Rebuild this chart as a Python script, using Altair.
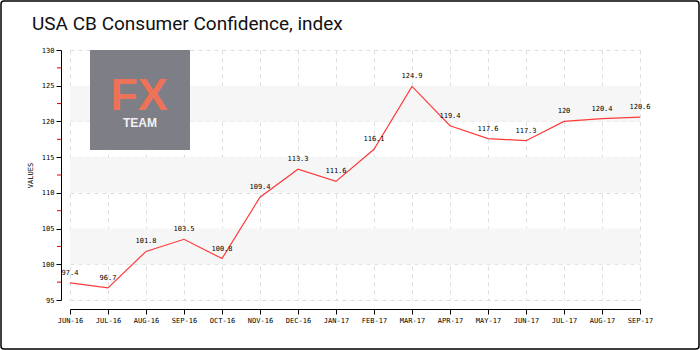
import altair as alt
import pandas as pd

months = ["JUN-16", "JUL-16", "AUG-16", "SEP-16", "OCT-16", "NOV-16", "DEC-16", "JAN-17",
          "FEB-17", "MAR-17", "APR-17", "MAY-17", "JUN-17", "JUL-17", "AUG-17", "SEP-17"]
values = [97.4, 96.7, 101.8, 103.5, 100.8, 109.4, 113.3, 111.6,
          116.1, 124.9, 119.4, 117.6, 117.3, 120, 120.4, 120.6]
labels = ["97.4", "96.7", "101.8", "103.5", "100.8", "109.4", "113.3", "111.6",
          "116.1", "124.9", "119.4", "117.6", "117.3", "120", "120.4", "120.6"]
band_lo = [100, 110, 120]
band_hi = [105, 115, 125]
minor_ticks = [97.5, 102.5, 107.5, 112.5, 117.5, 122.5, 127.5]
y_ticks = [95, 100, 105, 110, 115, 120, 125, 130]
title_text = "USA CB Consumer Confidence, index"

df = pd.DataFrame({"month": months, "value": values, "label": labels})
bands = pd.DataFrame({"lo": band_lo, "hi": band_hi})
minor = pd.DataFrame({"v": minor_ticks})
one = pd.DataFrame({"t": [title_text]})

W, H = 570, 250
MONO = "DejaVu Sans Mono"

xscale = alt.Scale(type="point", domain=months, padding=0)
yscale = alt.Scale(domain=[95, 130], nice=False, zero=False)

axis_common = dict(labelFont=MONO, labelFontSize=7, labelColor="#000", tickColor="#000",
                   tickSize=5, domainColor="#000", offset=9, grid=True, gridColor="#dddddd",
                   gridDash=[4, 4], labelPadding=2, labelOverlap=False)
yaxis = alt.Axis(title="VALUES", titleFont=MONO, titleFontSize=7,
                 titleFontWeight="normal", titleColor="#000", titlePadding=8,
                 values=y_ticks, tickCount=8, **axis_common)
xaxis = alt.Axis(title=None, labelAngle=0, **axis_common)


def ycol(field):
    return alt.Y(field, scale=yscale, axis=yaxis, title="VALUES")


band_layer = alt.Chart(bands).mark_rect(color="#f6f6f6").encode(
    x=alt.value(0), x2=alt.value(W),
    y=ycol("lo:Q"), y2="hi:Q")

border = alt.Chart(one).mark_rect(
    fill=None, stroke="#000", strokeWidth=1.5, cornerRadius=3, clip=False).encode(
    x=alt.value(-69), x2=alt.value(629), y=alt.value(-49), y2=alt.value(299))

title = alt.Chart(one).mark_text(
    font="Roboto", fontSize=19, color="#111", align="left",
    baseline="alphabetic", clip=False).encode(
    x=alt.value(-38), y=alt.value(-20), text="t:N")

logo = alt.Chart(one).mark_rect(color="#7d7e86").encode(
    x=alt.value(20), x2=alt.value(120), y=alt.value(0), y2=alt.value(100))
logo_fx = alt.Chart(one).mark_text(
    text="FX", font="Liberation Sans", fontSize=45, fontWeight="bold", color="#ee7257",
    align="center", baseline="alphabetic").encode(x=alt.value(69), y=alt.value(60))
logo_team = alt.Chart(one).mark_text(
    text="TEAM", font="Liberation Sans", fontSize=12, fontWeight="bold", color="#f2f2f2",
    align="center", baseline="alphabetic").encode(x=alt.value(70), y=alt.value(77))

line = alt.Chart(df).mark_line(color="#ff3a3a", strokeWidth=1.2).encode(
    x=alt.X("month:O", scale=xscale, sort=months, axis=xaxis),
    y=ycol("value:Q"))

text = alt.Chart(df).mark_text(font=MONO, fontSize=7, color="#000", dy=-8,
                               baseline="alphabetic", align="center").encode(
    x=alt.X("month:O", scale=xscale, sort=months, axis=xaxis),
    y=ycol("value:Q"),
    text="label:N")

minor_layer = alt.Chart(minor).mark_rule(color="#e00000", strokeWidth=1, clip=False).encode(
    x=alt.value(-13), x2=alt.value(-9), y=ycol("v:Q"))

chart = alt.layer(band_layer, logo, logo_fx, logo_team, line, text, minor_layer,
                  title, border).properties(
    width=W, height=H,
).configure(
    autosize=alt.AutoSizeParams(type="none"),
    padding={"left": 70, "top": 50, "right": 60, "bottom": 50},
    background="white",
).configure_view(stroke=None)

chart.save("out.html", embed_options={"renderer": "svg", "actions": False})
